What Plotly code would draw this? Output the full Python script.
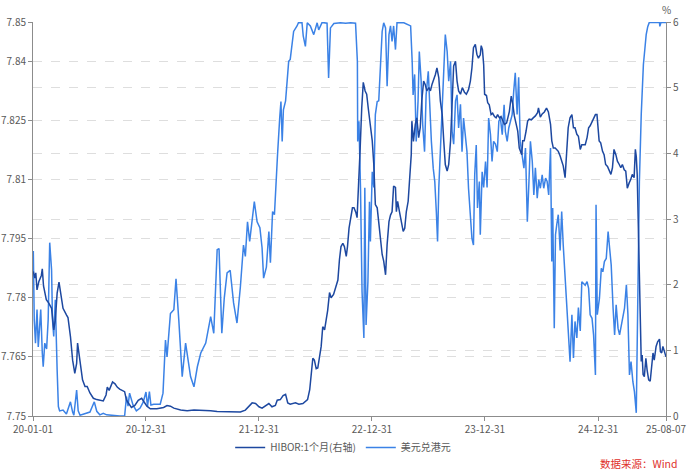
import plotly.graph_objects as go

# ---------------- data ----------------
usd_dates = [
"2020-01-02","2020-01-05","2020-01-09","2020-01-14","2020-01-18","2020-01-23","2020-01-26","2020-01-31",
"2020-02-03","2020-02-08","2020-02-14","2020-02-19","2020-02-24","2020-03-01","2020-03-04","2020-03-08",
"2020-03-13","2020-03-19","2020-03-23","2020-03-27","2020-04-07","2020-04-18","2020-05-01","2020-05-08",
"2020-05-12","2020-05-21","2020-05-26","2020-06-01","2020-06-11","2020-06-22","2020-07-03","2020-07-17",
"2020-07-25","2020-08-04","2020-08-15","2020-08-26","2020-09-05","2020-09-21","2020-10-07","2020-10-23",
"2020-10-29","2020-11-03","2020-11-08","2020-11-19","2020-11-30","2020-12-12","2020-12-22","2020-12-31",
"2021-01-05","2021-01-11","2021-01-16","2021-01-25","2021-02-04","2021-02-15","2021-02-24","2021-03-04",
"2021-03-09","2021-03-13","2021-03-20","2021-03-31","2021-04-07","2021-04-16","2021-04-27","2021-05-08",
"2021-05-17","2021-05-24","2021-06-04","2021-06-15","2021-06-26","2021-07-12","2021-07-28","2021-08-07",
"2021-08-18","2021-08-24","2021-09-02","2021-09-10","2021-09-19","2021-09-29","2021-10-10","2021-10-21",
"2021-11-01","2021-11-06","2021-11-11","2021-11-17","2021-11-24","2021-12-01","2021-12-09","2021-12-16",
"2021-12-25","2022-01-03","2022-01-10","2022-01-15","2022-01-24","2022-02-01","2022-02-06","2022-02-13",
"2022-02-19","2022-02-25","2022-03-01","2022-03-08","2022-03-12","2022-03-16","2022-03-20","2022-03-27",
"2022-04-01","2022-04-06","2022-04-11","2022-04-17","2022-04-22","2022-05-03","2022-05-08","2022-05-19",
"2022-05-23","2022-05-30","2022-06-05","2022-06-15","2022-06-26","2022-07-07","2022-07-12","2022-07-23",
"2022-08-08","2022-08-13","2022-08-19","2022-08-30","2022-09-20","2022-10-07","2022-10-23","2022-11-08",
"2022-11-10","2022-11-14","2022-11-15","2022-11-19","2022-11-24","2022-11-29","2022-12-05","2022-12-08",
"2022-12-12","2022-12-18","2022-12-23","2022-12-26","2023-01-01","2023-01-06","2023-01-11","2023-01-17",
"2023-01-22","2023-01-28","2023-02-02","2023-02-07","2023-02-13","2023-02-18","2023-02-24","2023-03-01",
"2023-03-06","2023-03-11","2023-03-17","2023-03-22","2023-04-02","2023-04-13","2023-04-24","2023-05-05",
"2023-05-10","2023-05-13","2023-05-18","2023-05-23","2023-05-29","2023-06-02","2023-06-08","2023-06-13",
"2023-06-19","2023-06-24","2023-07-01","2023-07-06","2023-07-11","2023-07-17","2023-07-22","2023-07-27",
"2023-07-31","2023-08-04","2023-08-09","2023-08-15","2023-08-20","2023-08-25","2023-08-31","2023-09-05",
"2023-09-11","2023-09-16","2023-09-21","2023-09-27","2023-10-02","2023-10-07","2023-10-13","2023-10-18",
"2023-10-23","2023-10-29","2023-11-03","2023-11-08","2023-11-14","2023-11-19","2023-11-24","2023-11-28",
"2023-12-03","2023-12-07","2023-12-13","2023-12-16","2023-12-22","2023-12-27","2024-01-02","2024-01-07",
"2024-01-12","2024-01-18","2024-01-23","2024-01-28","2024-02-03","2024-02-09","2024-02-14","2024-02-19",
"2024-02-25","2024-03-02","2024-03-06","2024-03-12","2024-03-17","2024-03-22","2024-03-28","2024-04-02",
"2024-04-07","2024-04-13","2024-04-18","2024-04-23","2024-04-29","2024-05-05","2024-05-10","2024-05-16",
"2024-05-21","2024-05-26","2024-06-01","2024-06-06","2024-06-11","2024-06-17","2024-06-22","2024-06-27",
"2024-07-03","2024-07-08","2024-07-14","2024-07-19","2024-07-24","2024-07-30","2024-08-03","2024-08-06",
"2024-08-11","2024-08-15","2024-08-19","2024-08-24","2024-08-30","2024-09-04","2024-09-09","2024-09-15",
"2024-09-20","2024-09-25","2024-10-01","2024-10-07","2024-10-12","2024-10-17","2024-10-23","2024-10-28",
"2024-11-03","2024-11-08","2024-11-14","2024-11-19","2024-11-25","2024-11-30","2024-12-05","2024-12-11",
"2024-12-16","2024-12-22","2024-12-24","2024-12-28","2025-01-04","2025-01-10","2025-01-15","2025-01-20",
"2025-01-26","2025-02-01","2025-02-06","2025-02-11","2025-02-17","2025-02-22","2025-02-27","2025-03-05",
"2025-03-10","2025-03-16","2025-03-21","2025-03-26","2025-04-01","2025-04-06","2025-04-11","2025-04-16",
"2025-04-22","2025-04-27","2025-05-03","2025-05-06","2025-05-10","2025-05-13","2025-05-19","2025-05-22",
"2025-05-26","2025-05-31","2025-06-04","2025-06-09","2025-06-14","2025-06-25","2025-07-17","2025-07-18",
"2025-07-22","2025-08-07"]
usd_hkd = [
7.7919,7.7744,7.7685,7.7770,7.7675,7.7727,7.7770,7.7660,
7.7625,7.7685,7.7670,7.7744,7.7940,7.7871,7.7744,7.7702,
7.7795,7.7617,7.7524,7.7513,7.7515,7.7505,7.7536,7.7510,
7.7502,7.7566,7.7513,7.7502,7.7504,7.7508,7.7510,7.7536,
7.7512,7.7503,7.7507,7.7503,7.7502,7.7501,7.7500,7.7500,
7.7549,7.7525,7.7558,7.7528,7.7513,7.7520,7.7535,7.7561,
7.7525,7.7562,7.7528,7.7530,7.7530,7.7530,7.7558,7.7693,
7.7650,7.7700,7.7760,7.7770,7.7848,7.7744,7.7600,7.7685,
7.7640,7.7600,7.7574,7.7625,7.7660,7.7685,7.7752,7.7710,
7.7922,7.7925,7.7710,7.7800,7.7863,7.7870,7.7787,7.7736,
7.7828,7.7876,7.7934,7.7905,7.7993,7.7943,7.8000,7.8044,
7.7993,7.7978,7.7927,7.7850,7.7878,7.7968,7.7889,7.8019,
7.8011,7.8112,7.8163,7.8256,7.8298,7.8197,7.8277,7.8300,
7.8349,7.8400,7.8405,7.8451,7.8476,7.8490,7.8499,7.8498,
7.8465,7.8438,7.8498,7.8490,7.8468,7.8498,7.8480,7.8499,
7.8497,7.8358,7.8485,7.8496,7.8498,7.8497,7.8498,7.8497,
7.8451,7.8400,7.8197,7.8248,7.8079,7.7816,7.7698,7.8079,
7.7731,7.7841,7.8044,7.7943,7.8120,7.8080,7.8265,7.8298,
7.8300,7.8392,7.8476,7.8498,7.8485,7.8337,7.8468,7.8490,
7.8451,7.8490,7.8430,7.8498,7.8499,7.8498,7.8494,7.8490,
7.8400,7.8315,7.8367,7.8197,7.8300,7.8425,7.8350,7.8239,
7.8171,7.8315,7.8375,7.8265,7.8197,7.8129,7.8095,7.8019,
7.7943,7.8080,7.8180,7.8281,7.8392,7.8468,7.8425,7.8350,
7.8400,7.8222,7.8190,7.8300,7.8315,7.8231,7.8291,7.8171,
7.8256,7.8197,7.8171,7.8078,7.8011,7.7951,7.7934,7.8112,
7.8188,7.8028,7.8095,7.7960,7.8120,7.8080,7.8146,7.8080,
7.8256,7.8214,7.8146,7.8197,7.8190,7.8171,7.8248,7.8256,
7.8214,7.8290,7.8222,7.8197,7.8231,7.8248,7.8265,7.8324,
7.8371,7.8265,7.8360,7.8197,7.8155,7.8129,7.8180,7.7993,
7.8090,7.8197,7.8146,7.8061,7.8130,7.8053,7.8100,7.8078,
7.8112,7.8078,7.8104,7.8095,7.8061,7.8180,7.7892,7.8028,
7.7723,7.7960,7.7985,7.8011,7.7920,7.8019,7.7934,7.7858,
7.7790,7.7723,7.7638,7.7757,7.7647,7.7740,7.7698,7.7775,
7.7716,7.7841,7.7836,7.7832,7.7841,7.7824,7.7757,7.7748,
7.7706,7.7604,7.8036,7.7757,7.7799,7.7875,7.7866,7.7892,
7.7900,7.7968,7.7925,7.7883,7.7774,7.7706,7.7782,7.7723,
7.7706,7.7732,7.7757,7.7774,7.7833,7.7757,7.7604,7.7638,
7.7587,7.7562,7.7508,7.7670,7.7930,7.8095,7.8265,7.8320,
7.8392,7.8434,7.8468,7.8488,7.8499,7.8499,7.8499,7.8489,
7.8499,7.8499]

hibor_dates = [
"2020-01-02","2020-01-07","2020-01-10","2020-01-14","2020-01-20","2020-01-28","2020-01-31","2020-02-04",
"2020-02-13","2020-02-21","2020-03-01","2020-03-08","2020-03-13","2020-03-19","2020-03-25","2020-03-31",
"2020-04-07","2020-04-18","2020-04-23","2020-05-01","2020-05-08","2020-05-15","2020-05-21","2020-05-24",
"2020-05-28","2020-06-03","2020-06-09","2020-06-17","2020-06-24","2020-07-03","2020-07-14","2020-07-25",
"2020-08-04","2020-08-15","2020-08-24","2020-08-28","2020-09-03","2020-09-09","2020-09-14","2020-09-22",
"2020-09-29","2020-10-07","2020-10-16","2020-10-23","2020-10-29","2020-11-06","2020-11-14","2020-11-25",
"2020-12-06","2020-12-17","2020-12-24","2021-01-03","2021-01-14","2021-02-04","2021-02-26","2021-03-09",
"2021-03-20","2021-03-31","2021-04-22","2021-05-13","2021-06-04","2021-06-26","2021-07-28","2021-08-18",
"2021-09-13","2021-10-10","2021-11-01","2021-11-17","2021-11-28","2021-12-09","2021-12-20","2021-12-31",
"2022-01-10","2022-01-21","2022-02-01","2022-02-11","2022-02-22","2022-02-28","2022-03-10","2022-03-19",
"2022-03-27","2022-04-03","2022-04-11","2022-04-28","2022-05-09","2022-05-22","2022-05-30","2022-06-06",
"2022-06-13","2022-06-18","2022-06-23","2022-06-28","2022-07-04","2022-07-09","2022-07-14","2022-07-20",
"2022-07-25","2022-07-31","2022-08-05","2022-08-10","2022-08-16","2022-08-21","2022-08-29","2022-09-06",
"2022-09-12","2022-09-17","2022-09-22","2022-09-28","2022-10-03","2022-10-09","2022-10-13","2022-10-18",
"2022-10-24","2022-10-29","2022-11-03","2022-11-09","2022-11-13","2022-11-17","2022-11-23","2022-11-28",
"2022-12-03","2022-12-09","2022-12-14","2022-12-19","2022-12-25","2023-01-01","2023-01-06","2023-01-11",
"2023-01-17","2023-01-22","2023-01-28","2023-02-02","2023-02-07","2023-02-13","2023-02-18","2023-02-24",
"2023-03-01","2023-03-06","2023-03-11","2023-03-17","2023-03-20","2023-03-24","2023-03-30","2023-04-05",
"2023-04-11","2023-04-16","2023-04-21","2023-04-27","2023-05-02","2023-05-07","2023-05-09","2023-05-14",
"2023-05-20","2023-05-25","2023-05-31","2023-06-05","2023-06-10","2023-06-16","2023-06-21","2023-06-26",
"2023-07-03","2023-07-08","2023-07-13","2023-07-19","2023-07-24","2023-07-29","2023-08-04","2023-08-09",
"2023-08-15","2023-08-20","2023-08-25","2023-08-31","2023-09-05","2023-09-11","2023-09-16","2023-09-21",
"2023-09-27","2023-10-02","2023-10-07","2023-10-13","2023-10-19","2023-10-26","2023-11-01","2023-11-08",
"2023-11-14","2023-11-19","2023-11-24","2023-11-30","2023-12-05","2023-12-10","2023-12-16","2023-12-19",
"2023-12-23","2023-12-27","2023-12-30","2024-01-05","2024-01-09","2024-01-14","2024-01-20","2024-01-25",
"2024-01-31","2024-02-05","2024-02-10","2024-02-16","2024-02-21","2024-02-26","2024-03-03","2024-03-10",
"2024-03-15","2024-03-19","2024-03-25","2024-03-30","2024-04-04","2024-04-10","2024-04-15","2024-04-20",
"2024-04-28","2024-05-01","2024-05-06","2024-05-12","2024-05-17","2024-05-22","2024-05-29","2024-06-04",
"2024-06-11","2024-06-18","2024-06-21","2024-06-27","2024-07-03","2024-07-10","2024-07-17","2024-07-23",
"2024-07-30","2024-08-03","2024-08-08","2024-08-14","2024-08-19","2024-08-24","2024-08-30","2024-09-04",
"2024-09-09","2024-09-15","2024-09-20","2024-09-25","2024-10-01","2024-10-07","2024-10-12","2024-10-17",
"2024-10-23","2024-10-28","2024-11-03","2024-11-08","2024-11-14","2024-11-19","2024-11-25","2024-11-30",
"2024-12-05","2024-12-11","2024-12-16","2024-12-22","2024-12-27","2025-01-03","2025-01-08","2025-01-14",
"2025-01-19","2025-01-24","2025-01-30","2025-02-04","2025-02-10","2025-02-15","2025-02-20","2025-02-26",
"2025-03-03","2025-03-09","2025-03-14","2025-03-19","2025-03-25","2025-03-30","2025-04-04","2025-04-10",
"2025-04-15","2025-04-20","2025-04-26","2025-04-30","2025-05-03","2025-05-06","2025-05-09","2025-05-12",
"2025-05-16","2025-05-19","2025-05-22","2025-05-25","2025-05-29","2025-06-03","2025-06-07","2025-06-12",
"2025-06-17","2025-06-22","2025-06-26","2025-06-30","2025-07-06","2025-07-11","2025-07-17","2025-07-20",
"2025-07-24","2025-07-28","2025-08-01","2025-08-07"]
hibor_1m = [
2.20,2.10,2.18,1.92,2.05,2.14,2.24,1.98,
1.77,1.72,1.64,1.31,1.46,1.87,2.04,1.87,
1.64,1.54,1.50,1.21,0.85,0.65,0.80,1.11,
0.98,0.75,0.55,0.45,0.45,0.35,0.27,0.25,
0.24,0.23,0.32,0.44,0.39,0.45,0.52,0.49,
0.44,0.41,0.39,0.37,0.24,0.19,0.13,0.16,
0.24,0.27,0.22,0.15,0.11,0.11,0.13,0.16,
0.15,0.12,0.09,0.08,0.09,0.09,0.08,0.07,
0.07,0.06,0.06,0.09,0.14,0.20,0.19,0.14,
0.12,0.16,0.19,0.14,0.16,0.24,0.25,0.31,
0.33,0.20,0.18,0.20,0.18,0.19,0.22,0.25,
0.40,0.62,0.88,0.85,0.72,0.73,0.90,1.06,
1.36,1.31,1.46,1.61,1.88,1.80,1.85,1.97,
2.07,2.38,2.58,2.63,2.58,2.43,2.58,2.86,
3.07,3.17,3.17,3.10,3.02,3.57,4.08,4.69,
5.08,4.95,4.90,4.69,4.44,4.19,3.83,3.22,
3.17,2.96,2.66,2.46,2.36,2.15,2.61,2.96,
3.06,3.11,3.50,3.48,3.11,3.27,3.11,2.96,
2.81,2.86,3.11,3.27,3.68,3.98,4.49,4.18,
4.44,4.54,4.24,4.39,4.80,5.10,5.05,4.95,
5.00,4.95,5.05,5.13,5.20,5.30,5.15,4.80,
4.59,4.19,3.83,3.73,3.83,4.19,4.74,5.33,
5.40,5.10,4.95,4.90,5.00,4.93,4.90,4.97,
5.10,5.30,5.61,5.66,5.51,5.45,5.50,5.64,
5.58,5.35,4.90,4.88,4.77,4.74,4.59,4.61,
4.56,4.54,4.59,4.54,4.56,4.49,4.44,4.46,
4.54,4.64,4.87,4.75,4.57,4.44,4.34,4.08,
3.98,4.19,4.19,4.34,4.49,4.52,4.51,4.54,
4.57,4.62,4.69,4.55,4.60,4.63,4.69,4.63,
4.44,4.19,4.08,4.08,4.06,4.03,3.96,3.88,
3.81,3.63,4.08,4.39,4.54,4.59,4.39,4.39,
4.29,4.26,4.06,4.13,4.13,4.13,4.24,4.39,
4.42,4.49,4.54,4.59,4.59,4.19,4.16,4.03,
3.98,3.83,3.80,3.75,3.68,3.78,4.06,3.98,
3.88,3.83,3.78,3.83,3.75,3.73,3.47,3.55,
3.60,3.68,3.63,4.06,3.95,3.68,3.07,2.15,
1.24,0.83,0.93,0.63,0.60,0.88,0.70,0.55,
0.53,0.75,0.96,0.85,1.06,1.13,1.17,0.98,
0.96,1.06,0.98,0.90]

x_tick_dates = ["2020-01-01", "2020-12-31", "2021-12-31", "2022-12-31",
                "2023-12-31", "2024-12-31", "2025-08-07"]
x_tick_labels = ["20-01-01", "20-12-31", "21-12-31", "22-12-31",
                 "23-12-31", "24-12-31", "25-08-07"]
left_ticks = [7.75, 7.765, 7.78, 7.795, 7.81, 7.825, 7.84, 7.85]
left_tick_labels = ["7.75", "7.765", "7.78", "7.795", "7.81", "7.825", "7.84", "7.85"]
right_ticks = [0, 1, 2, 3, 4, 5, 6]

series_names = ["HIBOR:1个月(右轴)", "美元兑港元"]
source_text = "数据来源：Wind"

# ---------------- figure ----------------
FONT = "Noto Sans CJK SC, Noto Sans, sans-serif"
TXT = "#595959"
AX = "#8c8c8c"
GRID = "#dedede"

fig = go.Figure()
fig.add_trace(go.Scatter(
    x=hibor_dates, y=hibor_1m, name=series_names[0], mode="lines",
    line=dict(color="#1d48a0", width=1.5), yaxis="y2"))
fig.add_trace(go.Scatter(
    x=usd_dates, y=usd_hkd, name=series_names[1], mode="lines",
    line=dict(color="#3b82e6", width=1.5), yaxis="y"))

fig.update_layout(
    width=693, height=471,
    margin=dict(l=33, r=27, t=22, b=55, autoexpand=False),
    paper_bgcolor="white", plot_bgcolor="white",
    font=dict(family=FONT, size=10, color=TXT),
    showlegend=True,
    legend=dict(orientation="h", x=0.49, xanchor="center", y=-0.043, yanchor="top",
                font=dict(size=10, color=TXT), itemwidth=30, tracegroupgap=0),
    xaxis=dict(
        type="date", range=["2020-01-01", "2025-08-07"], automargin=False,
        tickmode="array", tickvals=x_tick_dates, ticktext=x_tick_labels,
        showgrid=False, showline=True, linecolor=AX, linewidth=1,
        ticks="outside", ticklen=4, tickcolor=AX,
        tickfont=dict(size=10, color=TXT), zeroline=False),
    yaxis=dict(
        range=[7.75, 7.85], tickmode="array", tickvals=left_ticks, ticktext=left_tick_labels,
        automargin=False,
        showline=True, linecolor=AX, linewidth=1, ticks="outside", ticklen=4, tickcolor=AX,
        showgrid=True, gridcolor=GRID, griddash="dash", gridwidth=1, zeroline=False,
        tickfont=dict(size=10, color=TXT)),
    yaxis2=dict(
        range=[0, 6], tickmode="array", tickvals=right_ticks, automargin=False,
        overlaying="y", side="right",
        showline=True, linecolor=AX, linewidth=1, ticks="outside", ticklen=4, tickcolor=AX,
        showgrid=True, gridcolor=GRID, griddash="dash", gridwidth=1, zeroline=False,
        tickfont=dict(size=10, color=TXT)),
    annotations=[
        dict(text="%", xref="paper", yref="paper", x=1.0, y=1.0, xanchor="center",
             yanchor="bottom", yshift=3, showarrow=False, font=dict(size=10, color=TXT)),
        dict(text=source_text, xref="paper", yref="paper", x=1.022, y=-0.097,
             xanchor="right", yanchor="top", showarrow=False,
             font=dict(size=10.5, color="#e0302c")),
    ],
)

fig.write_html("out.html", config={"displayModeBar": False},
               post_script="document.body.style.margin='0px';document.body.style.overflow='hidden';")
